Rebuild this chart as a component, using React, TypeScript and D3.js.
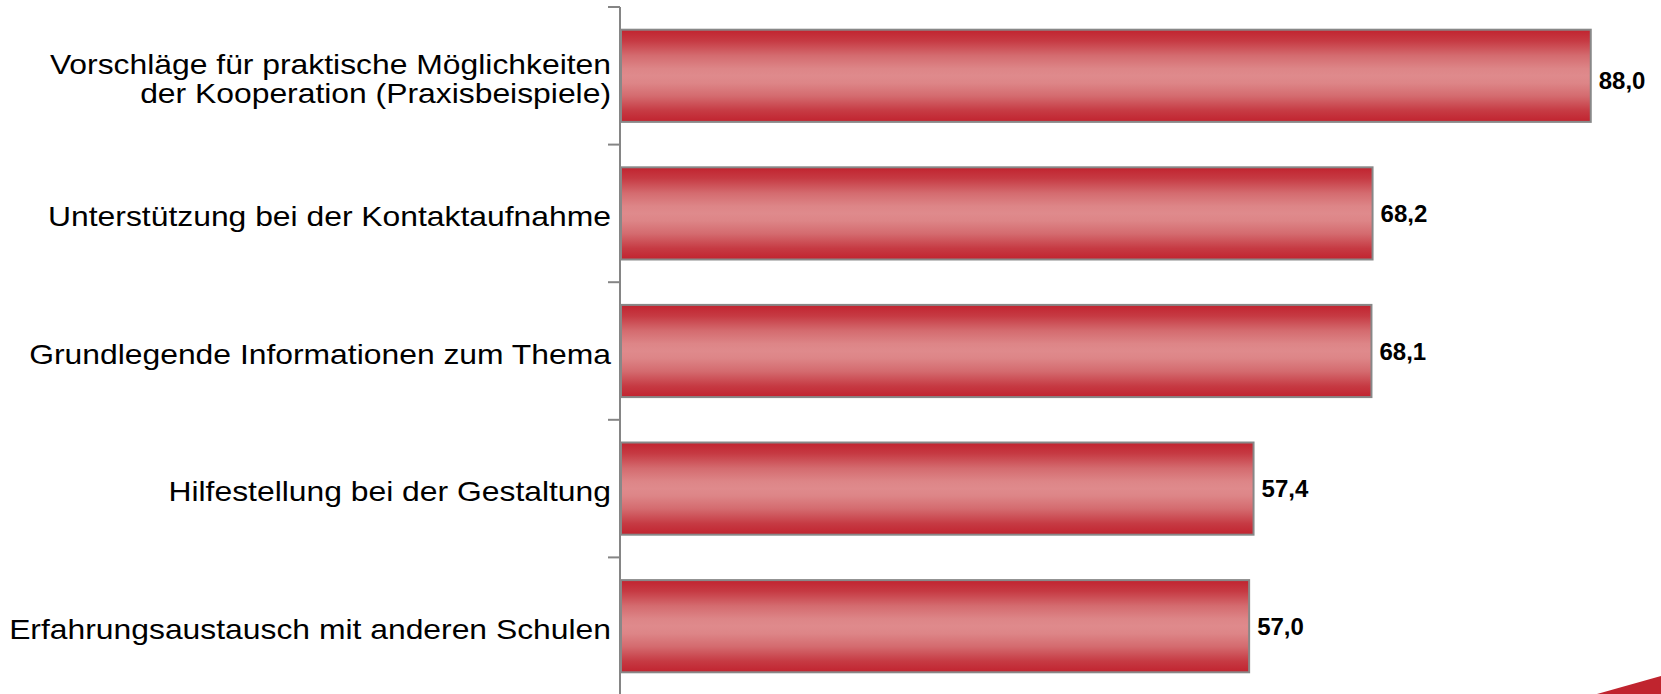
import React from "react";
import * as d3 from "d3";

const categories: string[][] = [
  ["Vorschläge für praktische Möglichkeiten", "der Kooperation (Praxisbeispiele)"],
  ["Unterstützung bei der Kontaktaufnahme"],
  ["Grundlegende Informationen zum Thema"],
  ["Hilfestellung bei der Gestaltung"],
  ["Erfahrungsaustausch mit anderen Schulen"],
];
const values: number[] = [88.0, 68.2, 68.1, 57.4, 57.0];
const valueLabels: string[] = ["88,0", "68,2", "68,1", "57,4", "57,0"];

const W = 1661;
const H = 694;

export default function App() {
  const ids = categories.map((_, i) => String(i));
  const y = d3.scaleBand<string>().domain(ids).range([7, 695]).paddingInner(0.33).paddingOuter(0.165);
  const x = d3.scaleLinear().domain([0, 100]).range([621, 621 + 1102]);
  const step = y.step();
  const y0 = 7;
  const font = "'Liberation Sans', Arial, sans-serif";
  const stops = [
    [0, "#c1232f"],
    [0.12, "#c63a43"],
    [0.28, "#d46b6f"],
    [0.42, "#dd8587"],
    [0.5, "#df8a8c"],
    [0.58, "#dd8587"],
    [0.72, "#d46b6f"],
    [0.88, "#c63a43"],
    [1, "#c1232f"],
  ];
  return (
    <svg width={W} height={H} style={{ position: "absolute", left: 0, top: 0, display: "block" }}>
      <defs>
        <linearGradient id="barGrad" x1="0" y1="0" x2="0" y2="1">
          {stops.map(([o, c], i) => (
            <stop key={i} offset={o as number} stopColor={c as string} />
          ))}
        </linearGradient>
      </defs>
      <rect x={0} y={0} width={W} height={H} fill="#fff" />
      {/* corner decoration */}
      <polygon points={`${W - 64},${H} ${W},${H - 18} ${W},${H}`} fill="#c0242e" />
      {/* axis */}
      <line x1={620} x2={620} y1={y0} y2={H} stroke="#858585" strokeWidth={2} />
      {d3.range(ids.length + 1).map((i) => (
        <line key={i} x1={608} x2={620} y1={y0 + i * step} y2={y0 + i * step} stroke="#858585" strokeWidth={2} />
      ))}
      {ids.map((id, i) => {
        const by = y(id)!;
        const bh = y.bandwidth();
        const cy = by + bh / 2;
        const lines = categories[i];
        const lh = 29.5;
        return (
          <g key={id}>
            <rect x={x(0)} y={by} width={x(values[i]) - x(0)} height={bh} fill="url(#barGrad)" stroke="#888" strokeWidth={2} />
            <text
              x={x(values[i]) + 8}
              y={cy + (i === 0 ? 5 : 0)}
              dominantBaseline="central"
              fontFamily={font}
              fontWeight="bold"
              fontSize={24}
              fill="#000"
            >
              {valueLabels[i]}
            </text>
            <g transform={`translate(611, ${cy + 3}) scale(1.18, 1)`}>
              {lines.map((t, j) => (
                <text
                  key={j}
                  x={0}
                  y={(j - (lines.length - 1) / 2) * lh}
                  textAnchor="end"
                  dominantBaseline="central"
                  fontFamily={font}
                  fontSize={27}
                  fill="#000"
                >
                  {t}
                </text>
              ))}
            </g>
          </g>
        );
      })}
    </svg>
  );
}
